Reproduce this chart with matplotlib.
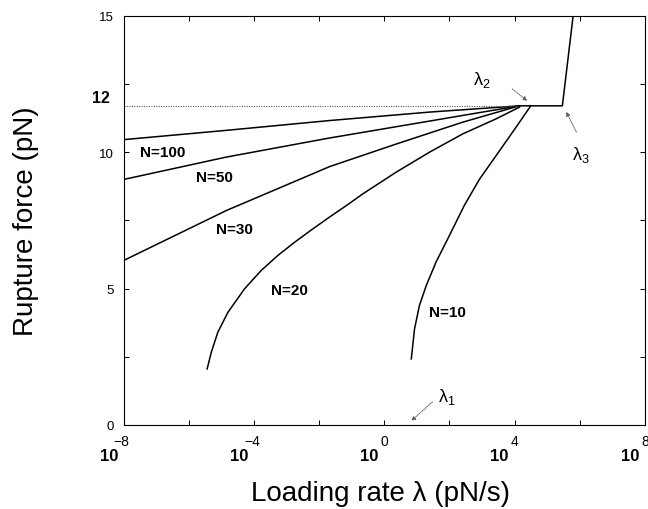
import matplotlib
matplotlib.use("Agg")
import matplotlib.pyplot as plt
import numpy as np

plt.rcParams['font.family'] = ['Liberation Sans', 'DejaVu Sans']
plt.rcParams['mathtext.fontset'] = 'custom'
plt.rcParams['mathtext.rm'] = 'Liberation Sans'
plt.rcParams['mathtext.it'] = 'Liberation Sans'
plt.rcParams['mathtext.bf'] = 'Liberation Sans:bold'

# curves: log10 of loading rate, rupture force (pN)
n100_log = [-8.0, -4.85, -1.68, 1.39, 4.15]
n100_f = [10.46, 10.80, 11.16, 11.47, 11.7]
n50_log = [-8.0, -4.85, -1.68, 1.39, 4.15]
n50_f = [9.0, 9.82, 10.52, 11.14, 11.7]
n30_log = [-8.0, -4.85, -1.68, 0.37, 2.41, 4.15]
n30_f = [6.03, 7.86, 9.47, 10.30, 11.1, 11.7]
n20_log = [-5.44, -5.31, -5.11, -4.80, -4.29, -3.78, -3.27, -2.75, -2.19,
           -1.68, -1.07, -0.66, 0.37, 1.39, 2.41, 3.43, 4.15]
n20_f = [2.05, 2.67, 3.40, 4.13, 4.99, 5.66, 6.21, 6.70, 7.19,
         7.62, 8.12, 8.47, 9.27, 10.0, 10.67, 11.22, 11.65]
n10_log = [0.83, 0.93, 1.08, 1.29, 1.59, 2.0, 2.46, 2.92, 3.48, 4.05, 4.5]
n10_f = [2.42, 3.52, 4.38, 5.11, 5.97, 6.94, 8.05, 9.0, 9.95, 10.92, 11.7]

curve_names = ['N=100', 'N=50', 'N=30', 'N=20', 'N=10']
label_log = [-6.80, -5.23, -4.60, -2.91, 1.95]
label_f = [10.02, 9.08, 7.19, 4.93, 4.13]

# plateau and steep branch
plateau_f = 11.7
dotted_log = [-8.0, 4.15]
plateau_log = [4.15, 5.47, 5.80]
plateau_vals = [11.7, 11.7, 15.0]

# lambda markers: text position, arrow start, arrow end (log10 rate, force)
lam_names = [r'$\mathrm{\lambda}_{1}$', r'$\mathrm{\lambda}_{2}$', r'$\mathrm{\lambda}_{3}$']
lam_text = [(1.91, 1.06), (3.01, 12.69), (6.05, 9.94)]
lam_from = [(1.48, 0.84), (3.93, 12.32), (5.90, 10.74)]
lam_to = [(0.83, 0.15), (4.39, 11.88), (5.59, 11.48)]

xtick_exp = [-8, -4, 0, 4, 8]

fig = plt.figure(figsize=(6.48, 5.10), dpi=100)
ax = fig.add_axes([0.191, 0.165, 0.804, 0.802])

curves = [(n100_log, n100_f), (n50_log, n50_f), (n30_log, n30_f),
          (n20_log, n20_f), (n10_log, n10_f)]
for (lx, fy) in curves:
    ax.plot(10.0 ** np.array(lx), fy, color='black', lw=1.1)

ax.plot(10.0 ** np.array(dotted_log), [plateau_f, plateau_f], color='0.35',
        lw=0.8, ls=(0, (1, 1.2)))
ax.plot(10.0 ** np.array(plateau_log), plateau_vals, color='black', lw=1.1)

for name, lx, fy in zip(curve_names, label_log, label_f):
    ax.text(10.0 ** lx, fy, name, ha='center', va='center', fontsize=11,
            fontweight='bold')

for name, t, a, b in zip(lam_names, lam_text, lam_from, lam_to):
    ax.text(10.0 ** t[0], t[1], name, ha='center', va='center', fontsize=13)
    ax.annotate('', xy=(10.0 ** b[0], b[1]), xytext=(10.0 ** a[0], a[1]),
                arrowprops=dict(arrowstyle='-|>', color='0.35', lw=0.7,
                                ls=(0, (1, 1.2)), mutation_scale=6,
                                shrinkA=0, shrinkB=0))

ax.set_xscale('log')
ax.set_xlim(1e-8, 1e8)
ax.set_ylim(0, 15)

ax.set_xticks([10.0 ** e for e in range(-8, 9, 2)])
ax.xaxis.set_minor_locator(matplotlib.ticker.NullLocator())
ax.set_xticklabels([])
ax.set_yticks(np.arange(0, 15.01, 2.5))
ax.set_yticklabels(['0', '', '5', '', '10', '', '15'])
ax.tick_params(axis='both', direction='in', length=3.5, width=0.7,
               top=True, right=True, labelsize=9.5, pad=7)
for s in ax.spines.values():
    s.set_linewidth(0.8)

# x tick labels: bold "10" with a plain exponent above right
for e in xtick_exp:
    ax.annotate('10', xy=(10.0 ** e, 0), xycoords=('data', 'axes fraction'),
                xytext=(-10.8, -22.3), textcoords='offset points',
                ha='center', va='center', fontsize=12, fontweight='bold')
    ax.annotate('\u2212%d' % -e if e < 0 else '%d' % e, xy=(10.0 ** e, 0),
                xycoords=('data', 'axes fraction'),
                xytext=(-1.5 if e < 0 else 0, -11.5), textcoords='offset points',
                ha='center', va='center', fontsize=10)

ax.annotate('12', xy=(0, 12), xycoords=('axes fraction', 'data'),
            xytext=(-16.5, 0), textcoords='offset points', ha='center',
            va='center', fontsize=11.5, fontweight='bold')

fig.text(26 / 648, 1 - 221 / 510, 'Rupture force (pN)', rotation=90,
         ha='center', va='center', fontsize=20)
fig.text(381 / 648, 0.018, 'Loading rate \u03bb (pN/s)', ha='center',
         va='baseline', fontsize=20)

fig.savefig('out.png', dpi=100)
